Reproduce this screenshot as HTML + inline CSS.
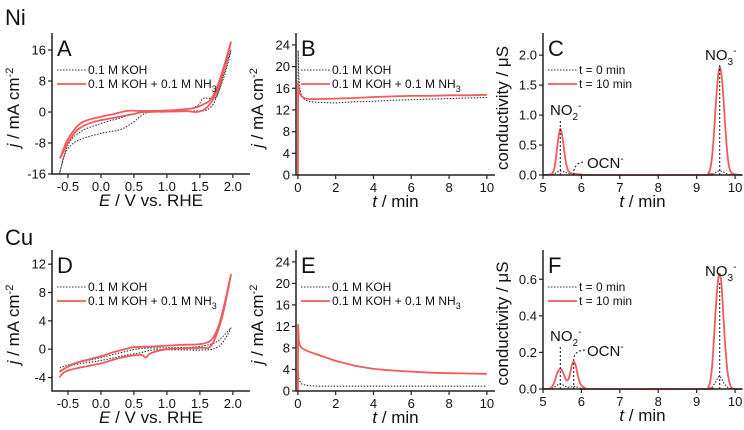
<!DOCTYPE html>
<html><head><meta charset="utf-8"><style>
body{margin:0;background:#fff}
svg{display:block;font-family:"Liberation Sans",sans-serif}
</style></head><body>
<svg id="fig" width="744" height="430" viewBox="0 0 744 430" xmlns="http://www.w3.org/2000/svg"></svg>
<script>
// ---- data ----
const niKohE = [-0.63,-0.55,-0.45,-0.3,0,0.3,0.5,0.65,0.8,1.2,1.5,1.6,1.7,1.8,1.9,1.97,1.85,1.75,1.65,1.55,1.45,1.2,0.8,0.5,0.3,0,-0.3,-0.5,-0.63];
const niKohJ = [-16,-11,-8.5,-7,-5.5,-4.5,-2.5,-0.5,0,0.1,0.3,0.5,2,6,11,16,9,4,3.5,3.5,1.5,0.4,0.2,-0.5,-1.5,-3,-5,-8.5,-16];
const niNh3E = [-0.62,-0.5,-0.35,-0.1,0.2,0.5,0.65,1.0,1.3,1.45,1.55,1.65,1.75,1.85,1.97,1.85,1.75,1.65,1.55,1.4,1.0,0.6,0.4,0.2,0,-0.3,-0.5,-0.62];
const niNh3J = [-12,-8,-4.5,-2.5,-1.5,-0.5,0,0.1,0.2,0,0.5,2,5,10,18,11,6,3,2,1,0.4,0.3,0.3,-0.5,-1.2,-2.8,-7,-12];
const cuKohE = [-0.62,-0.4,0,0.4,0.6,0.8,1.2,1.6,1.75,1.85,1.97,1.85,1.7,1.4,1.0,0.6,0.3,0,-0.4,-0.62];
const cuKohJ = [-3,-2.2,-1.6,-0.8,-0.5,-0.1,-0.1,-0.1,0.2,1,3,1.8,0.8,0.3,0.2,0.1,-0.5,-1.2,-2,-2.6];
const cuNh3E = [-0.63,-0.5,0,0.3,0.6,0.68,0.75,1.0,1.5,1.65,1.75,1.85,1.97,1.85,1.75,1.6,1.2,0.8,0.5,0.45,0.2,0,-0.4,-0.63];
const cuNh3J = [-4,-3,-2,-1.2,-0.8,-1.2,-0.6,0,0.2,0.3,2,5,10.5,5.5,2.5,0.9,0.6,0.4,0.3,0.2,-0.4,-1,-2,-3.2];
const caTime = [0,0.01,0.05,0.1,0.2,0.4,0.6,1,2,3,4,5,6,7,8,9,10];
const niCaKoh = [0,23,18,16,14.5,13.8,13.6,13.4,13.3,13.5,13.6,13.8,13.9,14,14.1,14.2,14.3];
const niCaNh3 = [0,17,16,15,14.5,14.1,14,14,14.1,14.2,14.4,14.5,14.6,14.6,14.7,14.7,14.8];
const cuCaKoh = [0,4,2.5,1.8,1.3,1.1,1,0.9,0.9,0.9,0.9,0.9,0.9,0.9,0.9,0.9,0.9];
const cuCaNh3 = [0,12.3,9.5,8.5,8,7.6,7.3,6.8,5.6,4.7,4.1,3.8,3.6,3.4,3.3,3.25,3.2];
const icTimeC = [5,5.2,5.25,5.3,5.35,5.4,5.45,5.5,5.55,5.6,5.65,5.7,5.8,6.0,6.2,9.2,9.3,9.35,9.4,9.45,9.5,9.55,9.6,9.65,9.7,9.75,9.8,9.85,9.9,10.0,10.2];
const icC10 = [0,0.01,0.04,0.12,0.35,0.62,0.77,0.66,0.42,0.2,0.08,0.04,0.02,0.01,0,0,0.03,0.1,0.3,0.7,1.2,1.6,1.8,1.65,1.25,0.75,0.35,0.12,0.04,0.01,0];
const icC0 = [0,0,0.01,0.02,0.04,0.06,0.07,0.06,0.05,0.04,0.03,0.02,0.02,0.01,0,0,0.01,0.01,0.02,0.03,0.04,0.06,0.07,0.06,0.05,0.03,0.02,0.01,0.01,0,0];
const icTimeF = [5,5.2,5.3,5.35,5.4,5.45,5.5,5.55,5.6,5.65,5.7,5.75,5.8,5.85,5.9,5.95,6.0,6.1,6.2,9.2,9.3,9.35,9.4,9.45,9.5,9.55,9.6,9.65,9.7,9.75,9.8,9.85,9.9,10.0,10.2];
const icF10 = [0,0.005,0.04,0.075,0.1,0.11,0.1,0.075,0.05,0.05,0.08,0.13,0.15,0.13,0.08,0.04,0.02,0.005,0,0,0.01,0.04,0.12,0.28,0.45,0.58,0.63,0.56,0.38,0.22,0.1,0.04,0.01,0,0];
const icF0 = [0,0,0.01,0.018,0.025,0.028,0.025,0.018,0.012,0.01,0.01,0.012,0.015,0.012,0.01,0.006,0.004,0,0,0,0,0.005,0.01,0.025,0.04,0.06,0.07,0.055,0.035,0.02,0.01,0.005,0,0,0];
const cvXTicks = [-0.5,0,0.5,1,1.5,2];
const cvXLabels = ["-0.5","0.0","0.5","1.0","1.5","2.0"];
const niCvYTicks = [-16,-8,0,8,16];
const cuCvYTicks = [-4,0,4,8,12];
const caXTicks = [0,2,4,6,8,10];
const caYTicks = [0,4,8,12,16,20,24];
const icXTicks = [5,6,7,8,9,10];
const icCYTicks = [0,0.5,1,1.5,2];
const icCYLabels = ["0.0","0.5","1.0","1.5","2.0"];
const icFYTicks = [0,0.2,0.4,0.6];
const icFYLabels = ["0.0","0.2","0.4","0.6"];

const NS="http://www.w3.org/2000/svg";
const svg=document.getElementById('fig');
const RED="#f05b5e", DOT="#333";
function mk(tag,attrs,parent){const e=document.createElementNS(NS,tag);for(const k in attrs)e.setAttribute(k,attrs[k]);(parent||svg).appendChild(e);return e;}
function txt(s,x,y,size,anchor,parent,name){const t=mk('text',{x:x,y:y,'font-size':size,'text-anchor':anchor||'start',fill:'#111'},parent);


t.innerHTML=s;return t;}
function smooth(pts){
  let d='M'+pts[0][0].toFixed(1)+','+pts[0][1].toFixed(1);
  for(let i=0;i<pts.length-1;i++){
    const p0=pts[Math.max(0,i-1)],p1=pts[i],p2=pts[i+1],p3=pts[Math.min(pts.length-1,i+2)];
    const k=1/6;
    const c1=[p1[0]+(p2[0]-p0[0])*k,p1[1]+(p2[1]-p0[1])*k];
    const c2=[p2[0]-(p3[0]-p1[0])*k,p2[1]-(p3[1]-p1[1])*k];
    d+='C'+c1[0].toFixed(1)+','+c1[1].toFixed(1)+' '+c2[0].toFixed(1)+','+c2[1].toFixed(1)+' '+p2[0].toFixed(1)+','+p2[1].toFixed(1);
  }
  return d;
}

function panel(p){
  const g=mk('g',{});
  
  
  const sx=v=>p.L+(v-p.xmin)/(p.xmax-p.xmin)*(p.R-p.L);
  const sy=v=>p.B-(v-p.ymin)/(p.ymax-p.ymin)*(p.B-p.T);
  p.sx=sx;p.sy=sy;p.g=g;
  p.series.forEach(s=>{
    const pts=s.x.map((v,i)=>[sx(v),sy(s.y[i])]);
    const d=p.noSmooth?pts.map((q,i)=>(i?'L':'M')+q[0].toFixed(1)+','+q[1].toFixed(1)).join(''):smooth(pts);
    const path=mk('path',{d:d,fill:'none',stroke:s.red?RED:DOT,'stroke-width':s.red?1.8:1.1,'stroke-dasharray':s.red?'':'1.5,1.5','stroke-linejoin':'round'},g);
    
    
  });
  const ax=mk('path',{d:`M${p.L},${p.T}V${p.B}H${p.R}`,fill:'none',stroke:'#222','stroke-width':1.5},g);
  
  
  p.xt.forEach((v,i)=>{const x=sx(v);mk('line',{x1:x,x2:x,y1:p.B,y2:p.B+4,stroke:'#222','stroke-width':1.2},g);
    txt(p.xl?p.xl[i]:String(v),x,p.B+17,13,'middle',g,'x-tick-label');});
  p.yt.forEach((v,i)=>{const y=sy(v);mk('line',{x1:p.L-4,x2:p.L,y1:y,y2:y,stroke:'#222','stroke-width':1.2},g);
    txt(p.yl?p.yl[i]:String(v),p.L-6,y+4.5,13,'end',g,'y-tick-label');});
  txt(p.xtitle,(p.L+p.R)/2,p.B+32,17,'middle',g,'x-axis-title');
  const yt=txt(p.ytitle,0,0,17,'middle',g,'y-axis-title');
  yt.setAttribute('transform',`translate(${p.ytx},${(p.T+p.B)/2+4}) rotate(-90)`);
  txt(p.id,p.L+5,p.T+23,22,'start',g,'panel-letter');
  const lg=mk('g',{},g);
  
  
  const lx=p.L+5, ly=p.T+37;
  mk('line',{x1:lx,x2:lx+29,y1:ly,y2:ly,stroke:DOT,'stroke-width':1.1,'stroke-dasharray':'1.5,1.5'},lg);
  txt(p.leg[0],lx+31,ly+4,12,'start',lg,'legend-entry');
  mk('line',{x1:lx,x2:lx+29,y1:ly+14,y2:ly+14,stroke:RED,'stroke-width':1.8},lg);
  txt(p.leg[1],lx+31,ly+18,12,'start',lg,'legend-entry');
  return p;
}
const jTitle='<tspan font-style="italic">j</tspan> / mA cm<tspan dy="-6" font-size="11">-2</tspan>';
const eTitle='<tspan font-style="italic">E</tspan> / V vs. RHE';
const tTitle='<tspan font-style="italic">t</tspan> / min';
const cvLeg=['0.1 M KOH','0.1 M KOH + 0.1 M NH<tspan dy="4" font-size="9">3</tspan>'];
const icLeg=['t = 0 min','t = 10 min'];

txt('Ni',5,25,22,'start',svg,'ni-row-title');
txt('Cu',5,245,22,'start',svg,'cu-row-title');

panel({id:'A',L:52,R:250,T:33,B:174,xmin:-0.742,xmax:2.26,ymin:-16,ymax:20.4,xt:cvXTicks,xl:cvXLabels,yt:niCvYTicks,
 xtitle:eTitle,ytitle:jTitle,ytx:19,leg:cvLeg,series:[{x:niKohE,y:niKohJ,name:'ni-koh-cv'},{x:niNh3E,y:niNh3J,red:1,name:'ni-nh3-cv'}]});
panel({id:'D',L:52,R:250,T:250,B:391,xmin:-0.742,xmax:2.26,ymin:-5.9,ymax:14,xt:cvXTicks,xl:cvXLabels,yt:cuCvYTicks,
 xtitle:eTitle,ytitle:jTitle,ytx:19,leg:cvLeg,series:[{x:cuKohE,y:cuKohJ,name:'cu-koh-cv'},{x:cuNh3E,y:cuNh3J,red:1,name:'cu-nh3-cv'}]});
panel({id:'B',L:296,R:495,T:33,B:175,xmin:-0.1,xmax:10.43,ymin:0,ymax:26.2,xt:caXTicks,yt:caYTicks,noSmooth:1,
 xtitle:tTitle,ytitle:jTitle,ytx:263,leg:cvLeg,series:[{x:caTime,y:niCaKoh,name:'ni-koh-ca'},{x:caTime,y:niCaNh3,red:1,name:'ni-nh3-ca'}]});
panel({id:'E',L:296,R:495,T:250,B:391,xmin:-0.1,xmax:10.43,ymin:0,ymax:26.2,xt:caXTicks,yt:caYTicks,noSmooth:1,
 xtitle:tTitle,ytitle:jTitle,ytx:263,leg:cvLeg,series:[{x:caTime,y:cuCaKoh,name:'cu-koh-ca'},{x:caTime,y:cuCaNh3,red:1,name:'cu-nh3-ca'}]});
const C=panel({id:'C',L:543,R:742,T:33,B:175,xmin:5,xmax:10.18,ymin:0,ymax:2.37,xt:icXTicks,yt:icCYTicks,yl:icCYLabels,
 xtitle:tTitle,ytitle:'conductivity / μS',ytx:508,leg:icLeg,series:[{x:icTimeC,y:icC0,name:'ni-ic-0min'},{x:icTimeC,y:icC10,red:1,name:'ni-ic-10min'}]});
const F=panel({id:'F',L:543,R:742,T:250,B:389,xmin:5,xmax:10.18,ymin:0,ymax:0.76,xt:icXTicks,yt:icFYTicks,yl:icFYLabels,
 xtitle:tTitle,ytitle:'conductivity / μS',ytx:508,leg:icLeg,series:[{x:icTimeF,y:icF0,name:'cu-ic-0min'},{x:icTimeF,y:icF10,red:1,name:'cu-ic-10min'}]});

function ann(p,t,yTopPx,label,lx,ly,name){
  const x=p.sx(t);
  mk('line',{x1:x,x2:x,y1:p.B,y2:yTopPx,stroke:'#111','stroke-width':1,'stroke-dasharray':'2,2'},p.g);
  txt(label,lx,ly,15,'start',p.g,name);
}
const no2='NO<tspan dy="5" font-size="10">2</tspan><tspan dy="-11" font-size="10">-</tspan>';
const no3='NO<tspan dy="5" font-size="10">3</tspan><tspan dy="-11" font-size="10">-</tspan>';
const ocn='OCN<tspan dy="-6" font-size="10">-</tspan>';
ann(C,5.45,120,no2,550,115,'no2-label');
ann(C,9.6,64,no3,705,60,'no3-label');
mk('path',{d:`M${C.sx(5.8)},${C.B}L${C.sx(5.8)},171Q${C.sx(5.85)},162 585,162`,fill:'none',stroke:'#111','stroke-width':1,'stroke-dasharray':'2,2'},C.g);
txt(ocn,587,168,15,'start',C.g,'ocn-label');
ann(F,5.45,346,no2,550,341,'no2-label');
ann(F,9.6,282,no3,705,276,'no3-label');
mk('path',{d:`M${F.sx(5.8)},${F.B}L${F.sx(5.8)},358Q${F.sx(5.85)},350 585,350`,fill:'none',stroke:'#111','stroke-width':1,'stroke-dasharray':'2,2'},F.g);
txt(ocn,587,356,15,'start',F.g,'ocn-label');
</script>
</body></html>
